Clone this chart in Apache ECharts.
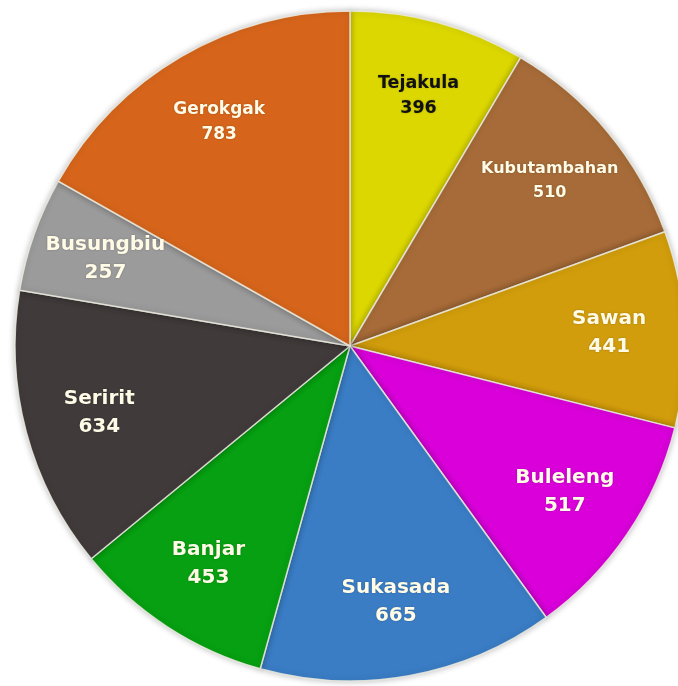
<!DOCTYPE html>
<html>
<head>
<meta charset="utf-8">
<script src="https://cdn.jsdelivr.net/npm/echarts@6/dist/echarts.min.js"></script>
<style>
  html, body { margin: 0; padding: 0; background: #fff; }
  #chart { width: 678px; height: 686px; }
</style>
</head>
<body>
<div id="chart"></div>
<script type="text/javascript">
var districts = ['Tejakula', 'Kubutambahan', 'Sawan', 'Buleleng', 'Sukasada', 'Banjar', 'Seririt', 'Busungbiu', 'Gerokgak'];
var counts = [396, 510, 441, 517, 665, 453, 634, 257, 783];

// styling per slice
var sliceColors = ['#dcd700', '#a66b38', '#d19d0c', '#d900d9', '#3a7dc5', '#07a012', '#403a3a', '#9b9b9b', '#d6651b'];
var textColors = ['#111', '#fffbe6', '#fffbe6', '#fffbe6', '#fffbe6', '#fffbe6', '#fffbe6', '#fffbe6', '#fffbe6'];
var fontSizes = [17.5, 16, 20, 20, 20, 20, 20, 20, 17];

var dom = document.getElementById('chart');
var myChart = echarts.init(dom);

var pieData = districts.map(function (name, i) {
    return {
        name: name,
        value: counts[i],
        itemStyle: { color: sliceColors[i] }
    };
});

var labelData = districts.map(function (name, i) {
    return {
        name: name,
        value: counts[i],
        label: { color: textColors[i], fontSize: fontSizes[i], lineHeight: fontSizes[i] + 8 }
    };
});

var option = {
    backgroundColor: '#fff',
    animation: false,
    series: [{
        type: 'pie',
        center: [350, 346],
        radius: [0, 335],
        startAngle: 90,
        clockwise: true,
        silent: true,
        label: { show: false },
        labelLine: { show: false },
        itemStyle: {
            borderColor: 'rgba(235,235,225,0.85)',
            borderWidth: 1.5,
            shadowColor: 'rgba(0,0,0,0.25)',
            shadowBlur: 6
        },
        data: pieData
    }, {
        type: 'pie',
        center: [350, 346],
        radius: [178, 335],
        startAngle: 90,
        clockwise: true,
        silent: true,
        itemStyle: { color: 'rgba(0,0,0,0)' },
        labelLine: { show: false },
        label: {
            show: true,
            position: 'inside',
            fontFamily: 'DejaVu Sans',
            fontWeight: 'bold',
            formatter: '{b}\n{c}',
            textShadowColor: 'rgba(0,0,0,0.25)',
            textShadowBlur: 2
        },
        data: labelData
    }]
};

myChart.setOption(option, true);
</script>
</body>
</html>
